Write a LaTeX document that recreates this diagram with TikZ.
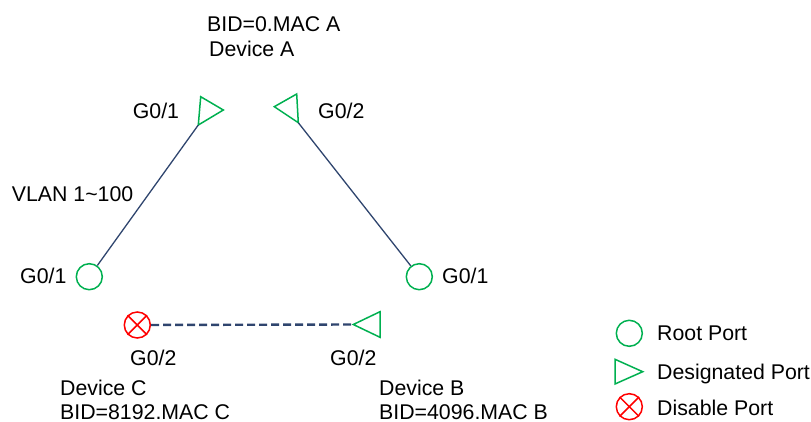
\documentclass[tikz,border=0pt]{standalone}
\usepackage{fontspec}
\setmainfont{Liberation Sans}
\definecolor{portgreen}{RGB}{0,176,80}
\definecolor{linkblue}{RGB}{47,69,110}
\definecolor{disred}{RGB}{255,0,0}
\begin{document}
\begin{tikzpicture}[x=1pt,y=-1pt,
  lbl/.style={anchor=base west,inner sep=0pt,font=\fontsize{21.3}{25}\selectfont,text=black},
  rootport/.style={circle,draw=portgreen,line width=1.5pt,minimum size=26pt,inner sep=0pt},
  disport/.style={circle,draw=disred,line width=1.5pt,minimum size=26pt,inner sep=0pt},
  desport/.style={draw=portgreen,line width=1.5pt,line join=miter},
  link/.style={draw=linkblue,line width=1.3pt},
  blocked/.style={draw=linkblue,line width=2.4pt,dash pattern=on 8pt off 4pt}]
\useasboundingbox (0,0) rectangle (811,422);

% Device A designated ports
\coordinate (a1t) at (200.7,96.7);
\coordinate (a1p) at (223.3,110);
\coordinate (a1b) at (198.3,125);
\draw[desport] (a1t) -- (a1p) -- (a1b) -- cycle;
\coordinate (a2p) at (274.3,106.7);
\coordinate (a2t) at (296.7,94);
\coordinate (a2b) at (298.3,122.7);
\draw[desport] (a2p) -- (a2t) -- (a2b) -- cycle;

% Root ports
\node[rootport] (c1) at (89.3,276.7) {};
\node[rootport] (b1) at (419.3,276.7) {};

% Disable port on C
\node[disport] (c2) at (137.3,325) {};
\draw[disred,line width=1.5pt] (c2.45) -- (c2.225) (c2.135) -- (c2.-45);

% Designated port on B
\coordinate (b2p) at (353.3,324.5);
\coordinate (b2t) at (380,311.7);
\coordinate (b2b) at (380,337.3);
\draw[desport] (b2p) -- (b2t) -- (b2b) -- cycle;

% Links
\draw[link] (a1b) -- (c1);
\draw[link] (a2b) -- (b1);
\draw[blocked] (c2) -- (b2p);

% Labels
\node[lbl] (bida) at (207,31.7) {BID=0.MAC A};
\node[lbl] (deva) at (209,56.7) {Device A};
\node[lbl] (ga1) at (132.7,118.3) {G0/1};
\node[lbl] (ga2) at (318,118.3) {G0/2};
\node[lbl] (vlan) at (11.7,201.7) {VLAN 1\textasciitilde100};
\node[lbl] (gc1) at (20,283.5) {G0/1};
\node[lbl] (gb1) at (442,283.5) {G0/1};
\node[lbl] (gc2) at (130,365) {G0/2};
\node[lbl] (gb2) at (330,365) {G0/2};
\node[lbl] (devc) at (60,395) {Device C};
\node[lbl] (bidc) at (60,419) {BID=8192.MAC C};
\node[lbl] (devb) at (379,395) {Device B};
\node[lbl] (bidb) at (379,419) {BID=4096.MAC B};

% Legend
\node[rootport] (lr) at (629.3,333.3) {};
\coordinate (ldt) at (615,359.3);
\coordinate (ldp) at (642.7,371.7);
\coordinate (ldb) at (615,384);
\draw[desport] (ldt) -- (ldp) -- (ldb) -- cycle;
\node[disport] (ld) at (629.3,406.7) {};
\draw[disred,line width=1.5pt] (ld.45) -- (ld.225) (ld.135) -- (ld.-45);
\node[lbl] (tr) at (657,340.5) {Root Port};
\node[lbl] (td) at (657,379.5) {Designated Port};
\node[lbl] (tx) at (657,415) {Disable Port};
\end{tikzpicture}
\end{document}
